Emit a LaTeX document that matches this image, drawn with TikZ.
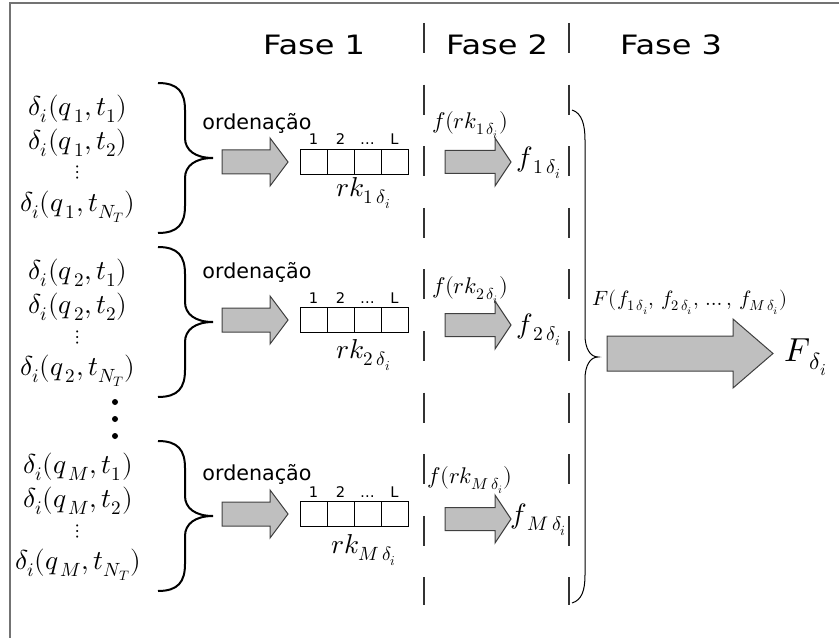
\documentclass[tikz,border=0pt]{standalone}
\usepackage{fontspec}
\usepackage{unicode-math}
\setmathfont{Latin Modern Math}
\setsansfont{DejaVu Sans}
\usepackage{graphicx}
\usetikzlibrary{calc}
\newcommand\fatarr[6]{%
  \draw[fatarrow] (#1,#4-#5) -- (#2,#4-#5) -- (#2,#4-#6) -- (#3,#4) -- (#2,#4+#6) -- (#2,#4+#5) -- (#1,#4+#5) -- cycle;}
\newcommand\sx[1]{\scalebox{1.2}[1]{#1}}
\begin{document}
\begin{tikzpicture}[x=0.75pt,y=-0.75pt,
  phase/.style={font=\sffamily\fontsize{20}{24}\selectfont, inner sep=0pt},
  ordl/.style={font=\sffamily\fontsize{15.5}{18}\selectfont, inner sep=0pt},
  idx/.style={font=\sffamily\fontsize{11}{13}\selectfont, inner sep=0pt},
  mathl/.style={font=\fontsize{20.5}{24}\selectfont, inner sep=0pt},
  vdot/.style={font=\fontsize{15}{17}\selectfont, inner sep=0pt},
  mathm/.style={font=\fontsize{17}{20}\selectfont, inner sep=0pt},
  maths/.style={font=\fontsize{15.5}{18}\selectfont, inner sep=0pt},
  mathf/.style={font=\fontsize{21}{24}\selectfont, inner sep=0pt},
  mathF/.style={font=\fontsize{25}{30}\selectfont, inner sep=0pt},
  fatarrow/.style={draw=black!75, fill=black!25, line width=0.75pt},
  cell/.style={draw, line width=0.75pt, minimum width=20.25pt, minimum height=18.75pt, inner sep=0pt},
  lbrace/.style={line width=1.5pt},
  rbrace/.style={line width=0.75pt},
  dashline/.style={line width=0.8pt, draw=black!80, dash pattern=on 22.5pt off 23.7pt},
  frame/.style={draw=black!55, line width=1.5pt},
  bigdot/.style={circle, fill, inner sep=0pt, minimum size=4.5pt}]
\useasboundingbox (0,0) rectangle (839,638);
\draw[frame] (10,650) |- (850,3);
% phase titles
\node[phase] (ph1) at (314,45) {\sx{Fase 1}};
\node[phase] (ph2) at (497,45) {\sx{Fase 2}};
\node[phase] (ph3) at (671,45) {\sx{Fase 3}};
% dashed separators
\coordinate (d1t) at (424,23); \coordinate (d1b) at (424,605);
\coordinate (d2t) at (569,23); \coordinate (d2b) at (569,605);
\draw[dashline] (d1t) -- (d1b);
\draw[dashline] (d2t) -- (d2b);
% groups
\foreach \r/\q/\yr/\yo/\ya/\yrk/\yfr/\yab/\yf in
  {1/1/109/123/162/193/125/162/163,
   2/2/273/272/320/355/290/325/330,
   3/M/467/474/514/550/480/519/520}{
  \node[mathl] (r\r a) at (78,\yr) {$\delta_i(q_{\,\q},t_{1})$};
  \node[mathl] (r\r b) at (78,\yr+34) {$\delta_i(q_{\,\q},t_{2})$};
  \node[vdot] (r\r c) at (78,\yr+64) {$\vdots$};
  \node[mathl] (r\r d) at (78,\yr+98) {$\delta_i(q_{\,\q},t_{N_T})$};
  \draw[lbrace] (158,\yr-26) .. controls (178,\yr-26) and (185,\yr-17) .. (185,\yr+1)
     -- (185,\yr+29) .. controls (185,\yr+41) and (195,\yr+49) .. (213,\yr+49)
     .. controls (195,\yr+49) and (185,\yr+57) .. (185,\yr+69)
     -- (185,\yr+97) .. controls (185,\yr+115) and (178,\yr+124) .. (158,\yr+124);
  \node[ordl] (o\r) at (257,\yo) {ordenação};
  \fatarr{222}{270}{288}{\ya}{12}{24}
  \foreach \c/\t in {1/1,2/2,3/\ldots,4/L}{
    \node[cell] (b\r\c) at ({300+27*(\c-0.5)},\ya) {};
    \node[idx, anchor=base] (i\r\c) at ($(b\r\c.north)+(0,-4)$) {\t};
  }
  \node[mathl] (rk\r) at (364,\yrk) {$rk_{\q\,\delta_i}$};
  \node[mathm] (fr\r) at (470,\yfr) {$f(rk_{\q\,\delta_i})$};
  \fatarr{445}{495}{511}{\yab}{11.5}{24}
  \node[mathf] (f\r) at (539,\yf) {$f_{\,\q\,\delta_i}$};
}
% vertical dots between groups
\node[bigdot] (v1) at (115,402) {};
\node[bigdot] (v2) at (115,419) {};
\node[bigdot] (v3) at (115,436) {};
% big brace
\draw[rbrace] (572,110) .. controls (582,113) and (585,125) .. (585,140) -- (585,335)
   .. controls (585,348) and (590,357) .. (598,357)
   .. controls (590,357) and (585,366) .. (585,379) -- (585,575)
   .. controls (585,590) and (582,600) .. (572,603);
\node[maths] (Fl) at (690,302) {$F(f_{1\,\delta_i},\,f_{2\,\delta_i},\,\ldots,\,f_{M\,\delta_i})$};
\fatarr{607}{733}{773}{353.5}{17.5}{34.5}
\node[mathF] (Fr) at (806,357) {$F_{\,\delta_i}$};
\end{tikzpicture}
\end{document}
